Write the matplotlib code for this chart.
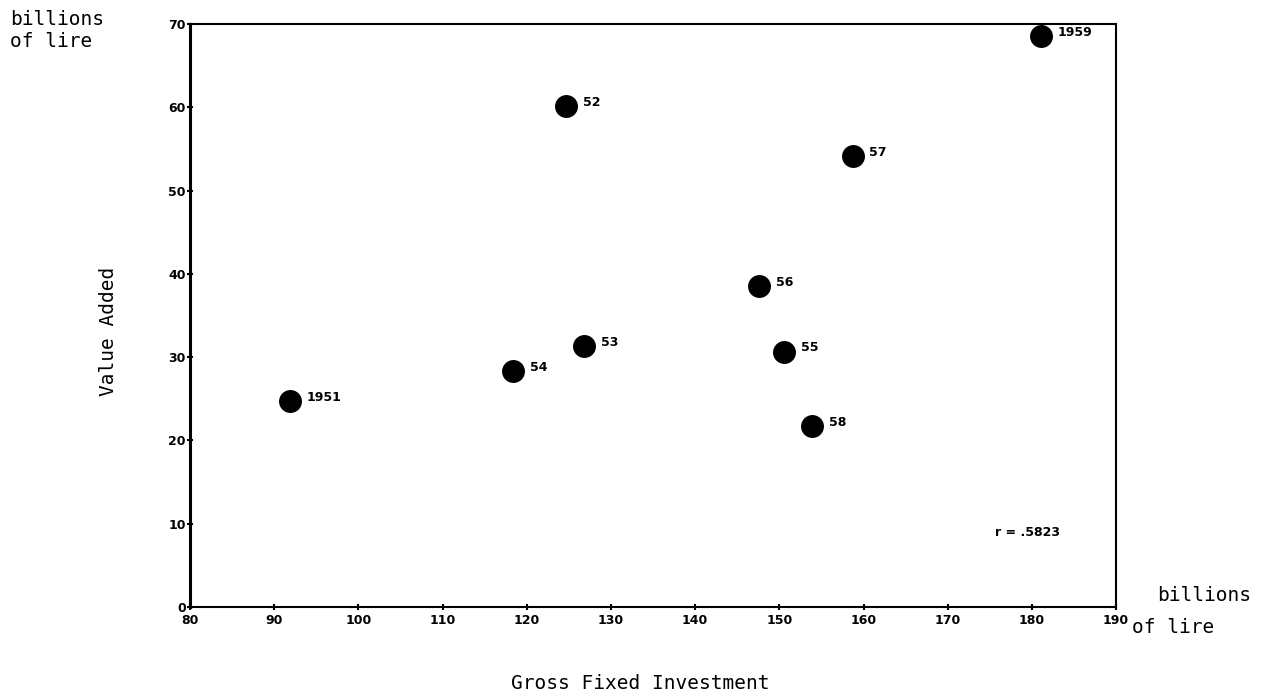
import numpy as np
import matplotlib.pyplot as plt

# data (billions of lire)
years = ["1951", "52", "53", "54", "55", "56", "57", "58", "1959"]
investment = [91.9, 124.7, 126.8, 118.4, 150.6, 147.6, 158.7, 153.9, 181.1]
value_added = [24.7, 60.1, 31.3, 28.3, 30.6, 38.5, 54.1, 21.7, 68.5]

x_ticks = list(range(80, 191, 10))
y_ticks = list(range(0, 71, 10))

fig = plt.figure(figsize=(12.72, 6.97), dpi=100)
ax = fig.add_axes([0.1494, 0.1291, 0.728, 0.8365])

ax.scatter(investment, value_added, s=240, color="black", zorder=3, clip_on=False)
for x, y, lab in zip(investment, value_added, years):
    ax.annotate(lab, (x, y), xytext=(12, 3), textcoords="offset points",
                fontsize=9, fontweight="bold", va="center", ha="left")

ax.set_xlim(80, 190)
ax.set_ylim(0, 70)
ax.set_xticks(x_ticks)
ax.set_yticks(y_ticks)
ax.tick_params(axis="both", labelsize=9, width=1.5, length=4, direction="inout")
for lab in ax.get_xticklabels() + ax.get_yticklabels():
    lab.set_fontweight("bold")
ax.tick_params(axis="y", pad=1)
ax.tick_params(axis="x", pad=3)
for sp in ax.spines.values():
    sp.set_linewidth(1.5)
ax.spines["left"].set_linewidth(2.2)

ax.text(179.5, 9.0, "r = .5823", fontsize=9, fontweight="bold", ha="center", va="center")

mono = "DejaVu Sans Mono"
fig.text(0.008, 0.985, "billions\nof lire", family=mono, fontsize=14,
         ha="left", va="top", linespacing=1.2)
fig.text(0.91, 0.145, "billions", family=mono, fontsize=14, ha="left", va="center")
fig.text(0.89, 0.10, "of lire", family=mono, fontsize=14, ha="left", va="center")
fig.text(0.085, 0.525, "Value Added", family=mono, fontsize=14, rotation=90,
         ha="center", va="center")
fig.text(0.503, 0.02, "Gross Fixed Investment", family=mono, fontsize=14,
         ha="center", va="center")

fig.savefig("out.png", dpi=100)
